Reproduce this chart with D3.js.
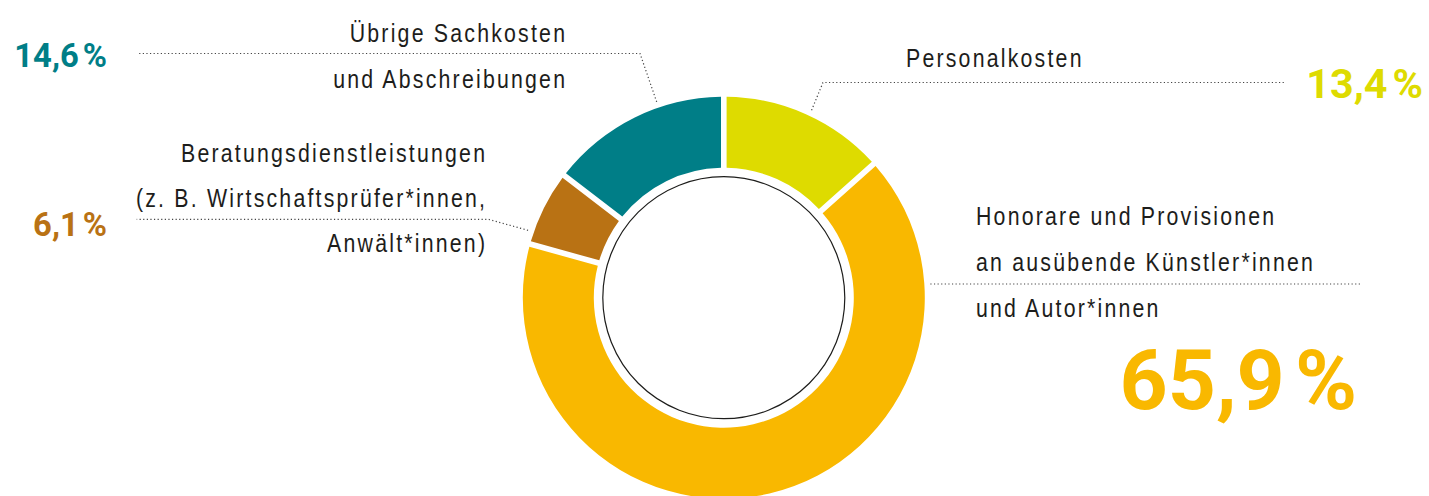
<!DOCTYPE html>
<html lang="de">
<head>
<meta charset="utf-8">
<script src="https://cdn.jsdelivr.net/npm/d3@7"></script>
<style>
  html, body { margin: 0; padding: 0; background: #fff; }
  svg { display: block; }
  .label { font-family: "Liberation Sans", Arial, sans-serif;
           font-size: 26px; fill: #1d1d1b; }
  .share { font-family: Roboto, "Liberation Sans", sans-serif; font-weight: 700; }
  .leader { fill: none; stroke: #444; stroke-width: 1.2; stroke-dasharray: 1.2 2.4; }
</style>
</head>
<body>
<svg id="chart" width="1429" height="496"></svg>
<script>
// Cost categories, clockwise from 12 o'clock
const categories = [
  "Personalkosten",
  "Honorare und Provisionen an ausübende Künstler*innen und Autor*innen",
  "Beratungsdienstleistungen (z. B. Wirtschaftsprüfer*innen, Anwält*innen)",
  "Übrige Sachkosten und Abschreibungen"
];
// Share of total costs in percent
const shares = [13.4, 65.9, 6.1, 14.6];
// Label text broken into lines
const labelLines = [
  ["Personalkosten"],
  ["Honorare und Provisionen", "an ausübende Künstler*innen", "und Autor*innen"],
  ["Beratungsdienstleistungen", "(z. B. Wirtschaftsprüfer*innen,", "Anwält*innen)"],
  ["Übrige Sachkosten", "und Abschreibungen"]
];
const colors = ["#dedb00", "#f9b800", "#b97214", "#007e87"];

// ---- layout ----
const svg = d3.select("#chart");
const cx = 723.8, cy = 297.7;
const outerR = 201, innerR = 130, ringR = 121;
const narrow = 0.82;      // horizontal squeeze for the condensed label face
const tracking = 2.2;     // visible letter spacing in px

const pie = d3.pie().sort(null).value(d => d)(shares);
const arc = d3.arc()
  .innerRadius(innerR)
  .outerRadius(outerR)
  .padRadius(outerR)
  .padAngle(5.6 / outerR);

const g = svg.append("g").attr("transform", `translate(${cx},${cy})`);

g.selectAll("path.slice")
  .data(pie)
  .join("path")
  .attr("class", "slice")
  .attr("d", arc)
  .attr("fill", (d, i) => colors[i]);

g.append("circle")
  .attr("r", ringR)
  .attr("fill", "#fff")
  .attr("stroke", "#1d1d1b")
  .attr("stroke-width", 1.2);

// Label placement for each category
const layout = [
  { anchor: "start", x: 906, y: 66.7, lh: 46,
    share: { x: 1423, y: 97.7, size: 41.3 },
    leader: { frac: 0.52, elbowX: 823, elbowY: 82.5, endX: 1285 } },
  { anchor: "start", x: 976, y: 225, lh: 46,
    share: { x: 1357, y: 409, size: 84 },
    leader: { frac: 0.16, elbowX: null, elbowY: null, endX: 1360 } },
  { anchor: "end", x: 485, y: 161.7, lh: 45,
    share: { x: 107, y: 236, size: 32.8 },
    leader: { frac: 0.16, elbowX: 488.3, elbowY: 219.3, endX: 136.7 } },
  { anchor: "end", x: 565, y: 41.7, lh: 46.6,
    share: { x: 107, y: 66.7, size: 32.8 },
    leader: { frac: 0.64, elbowX: 640, elbowY: 53.5, endX: 138 } }
];

const fmtNum = v => d3.format(".1f")(v).replace(".", ",");

pie.forEach((d, i) => {
  const L = layout[i];
  // leader line from just outside the slice to the label
  const a = d.startAngle + L.leader.frac * (d.endAngle - d.startAngle);
  const r = outerR + 6;
  const ax = cx + r * Math.sin(a), ay = cy - r * Math.cos(a);
  const pts = [[ax, ay]];
  if (L.leader.elbowX !== null) pts.push([L.leader.elbowX, L.leader.elbowY]);
  const lastY = pts[pts.length - 1][1];
  pts.push([L.leader.endX, lastY]);
  svg.append("path")
    .attr("class", "leader")
    .attr("d", d3.line()(pts));

  // category text, squeezed horizontally
  const shift = L.anchor === "end" ? tracking : 0;
  const t = svg.append("g")
    .attr("transform", `translate(${L.x + shift},0) scale(${narrow},1)`)
    .append("text")
    .attr("class", "label")
    .attr("letter-spacing", tracking / narrow)
    .attr("text-anchor", L.anchor);
  labelLines[i].forEach((line, k) => {
    t.append("tspan")
      .attr("x", 0)
      .attr("y", L.y + k * L.lh)
      .text(line);
  });

  // share value
  const s = svg.append("text")
    .attr("class", "share")
    .attr("x", L.share.x)
    .attr("y", L.share.y)
    .attr("text-anchor", "end")
    .attr("font-size", L.share.size)
    .attr("fill", colors[i]);
  s.append("tspan").text(fmtNum(d.data));
  s.append("tspan").attr("dx", "0.12em").text("%");
});
</script>
</body>
</html>
